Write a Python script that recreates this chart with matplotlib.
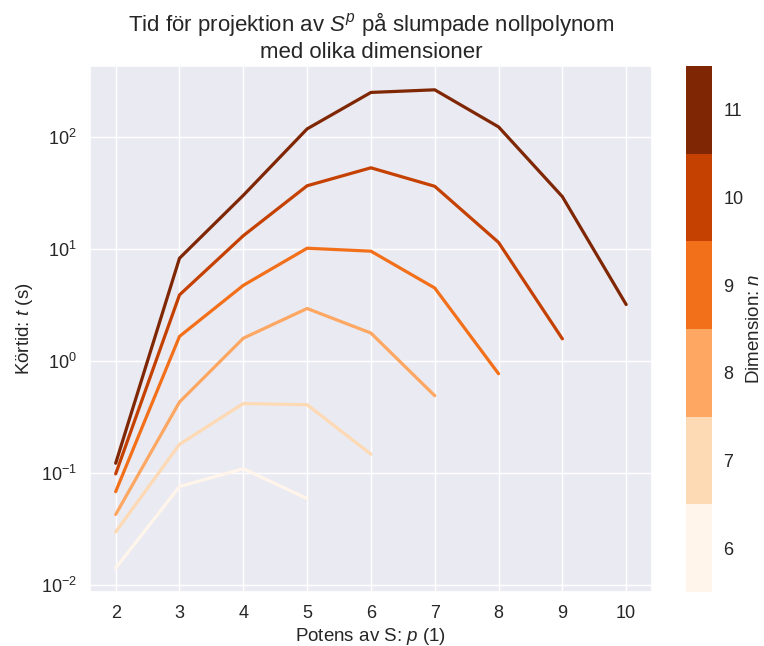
import numpy as np
import matplotlib
matplotlib.use("Agg")
import matplotlib.pyplot as plt
import seaborn as sns
from matplotlib.colors import ListedColormap, BoundaryNorm

dims = [6, 7, 8, 9, 10, 11]
p_values = {
    6: [2, 3, 4, 5],
    7: [2, 3, 4, 5, 6],
    8: [2, 3, 4, 5, 6, 7],
    9: [2, 3, 4, 5, 6, 7, 8],
    10: [2, 3, 4, 5, 6, 7, 8, 9],
    11: [2, 3, 4, 5, 6, 7, 8, 9, 10],
}
times = {
    6: [0.0141, 0.0755, 0.109, 0.059],
    7: [0.0297, 0.18, 0.417, 0.407, 0.147],
    8: [0.0425, 0.43, 1.6, 2.95, 1.78, 0.49],
    9: [0.068, 1.66, 4.75, 10.2, 9.6, 4.5, 0.77],
    10: [0.098, 3.9, 13.2, 36.9, 53.4, 36.5, 11.5, 1.58],
    11: [0.122, 8.3, 30.3, 119, 252, 266, 124, 29.5, 3.2],
}

sns.set_theme(style="darkgrid")
plt.rcParams['font.family'] = ['Liberation Sans', 'DejaVu Sans']
plt.rcParams['mathtext.fontset'] = 'custom'
plt.rcParams['mathtext.it'] = 'Liberation Sans:italic'
plt.rcParams['mathtext.rm'] = 'Liberation Sans'

fig = plt.figure(figsize=(7.64, 6.46), dpi=100)
ax = fig.add_axes([0.118, 0.0836, 0.735, 0.8144])
cax = fig.add_axes([0.898, 0.0836, 0.034, 0.8144])

base = plt.get_cmap('Oranges')
colors = [base(v) for v in np.linspace(0, 1, len(dims))]
cmap = ListedColormap(colors)
bounds = np.arange(dims[0] - 0.5, dims[-1] + 1.0, 1.0)
norm = BoundaryNorm(bounds, cmap.N)

for i, n in enumerate(dims):
    ax.plot(p_values[n], times[n], color=colors[i], lw=2.3)

ax.set_yscale('log')
ax.set_xticks(range(2, 11))
ax.tick_params(labelsize=13)
ax.set_xlabel('Potens av S: $p$ (1)', fontsize=13.5, labelpad=3)
ax.set_ylabel('Körtid: $t$ (s)', fontsize=13.5)
ax.set_title('Tid för projektion av $S^p$ på slumpade nollpolynom\nmed olika dimensioner', fontsize=16)

sm = plt.cm.ScalarMappable(cmap=cmap, norm=norm)
cb = fig.colorbar(sm, cax=cax, ticks=dims)
cb.outline.set_visible(False)
cb.ax.minorticks_off()
cb.ax.tick_params(which='both', labelsize=13, length=0, pad=8)
cb.set_label('Dimension: $n$', fontsize=13.5, labelpad=2)

fig.savefig('out.png', dpi=100)
